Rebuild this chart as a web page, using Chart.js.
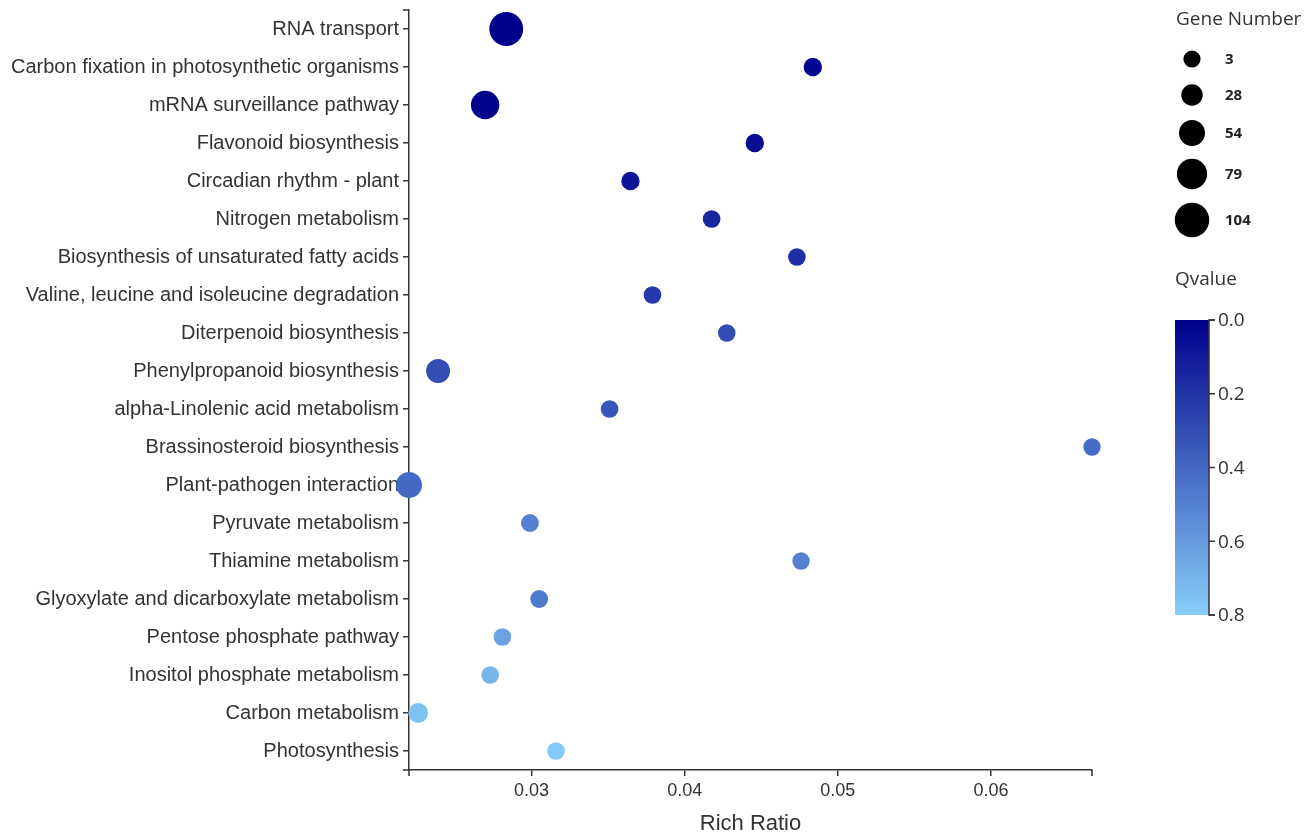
<!DOCTYPE html>
<html>
<head>
<meta charset="utf-8">
<script src="https://cdn.jsdelivr.net/npm/chart.js@4.4.0/dist/chart.umd.min.js"></script>
<style>
  html, body { margin: 0; padding: 0; background: #fff; }
</style>
</head>
<body>
<canvas id="chart" width="1311" height="837"></canvas>
<script>
// ---- data ----
const pathways = [
  "RNA transport",
  "Carbon fixation in photosynthetic organisms",
  "mRNA surveillance pathway",
  "Flavonoid biosynthesis",
  "Circadian rhythm - plant",
  "Nitrogen metabolism",
  "Biosynthesis of unsaturated fatty acids",
  "Valine, leucine and isoleucine degradation",
  "Diterpenoid biosynthesis",
  "Phenylpropanoid biosynthesis",
  "alpha-Linolenic acid metabolism",
  "Brassinosteroid biosynthesis",
  "Plant-pathogen interaction",
  "Pyruvate metabolism",
  "Thiamine metabolism",
  "Glyoxylate and dicarboxylate metabolism",
  "Pentose phosphate pathway",
  "Inositol phosphate metabolism",
  "Carbon metabolism",
  "Photosynthesis",
];
const richRatio = [0.02835, 0.04837, 0.02697, 0.04458, 0.03646, 0.04176, 0.04733, 0.0379, 0.04275, 0.0239,
  0.0351, 0.0666, 0.0220, 0.0299, 0.0476, 0.0305, 0.0281, 0.0273, 0.0226, 0.0316];
const geneNumber = [100, 10, 68, 10, 10, 6, 5, 6, 5, 42, 6, 4, 54, 7, 4, 7, 6, 6, 18, 5];
const qValue = [0.0, 0.02, 0.01, 0.05, 0.08, 0.15, 0.18, 0.22, 0.3, 0.3, 0.33, 0.42, 0.41, 0.5, 0.5, 0.47, 0.63, 0.7, 0.75, 0.78];

const xTicks = [0.03, 0.04, 0.05, 0.06];
const sizeLegend = [3, 28, 54, 79, 104];
const qTicks = [0.0, 0.2, 0.4, 0.6, 0.8];

const X_MIN = 0.022, X_MAX = 0.0666;
const Q_MAX = 0.8;

const AXIS = "#333";
const TEXT = "#333";

// gene number -> radius (px), linear like the size legend
const radius = (n) => 8.6 + (n - 3) * 0.086;

// qvalue -> colour, darkblue to lightskyblue
const dark = [0, 0, 139], light = [135, 206, 250];
const qColor = (q) => {
  const t = Math.max(0, Math.min(1, q / Q_MAX));
  const c = dark.map((d, i) => Math.round(d + (light[i] - d) * t));
  return `rgb(${c[0]},${c[1]},${c[2]})`;
};

// outer ticks of the axes + legends on the right
const extras = {
  id: "extras",
  afterDraw(chart) {
    const ctx = chart.ctx;
    const a = chart.chartArea;
    ctx.save();
    ctx.strokeStyle = AXIS;
    ctx.lineWidth = 1.5;
    ctx.beginPath();
    ctx.moveTo(a.left - 6, a.top); ctx.lineTo(a.left, a.top);
    ctx.moveTo(a.left - 6, a.bottom); ctx.lineTo(a.left, a.bottom);
    ctx.moveTo(a.left, a.bottom); ctx.lineTo(a.left, a.bottom + 6);
    ctx.moveTo(a.right, a.bottom); ctx.lineTo(a.right, a.bottom + 6);
    ctx.stroke();

    // Gene Number legend
    const lx = 1192;
    ctx.fillStyle = TEXT;
    ctx.font = "19px 'Open Sans'";
    ctx.textBaseline = "middle";
    ctx.textAlign = "left";
    ctx.fillText("Gene Number", 1176, 20);
    const rowsY = [59, 95, 133, 174, 220];
    ctx.font = "bold 15px 'Open Sans'";
    sizeLegend.forEach((n, i) => {
      ctx.fillStyle = "#000";
      ctx.beginPath();
      ctx.arc(lx, rowsY[i], radius(n), 0, Math.PI * 2);
      ctx.fill();
      ctx.fillStyle = "#222";
      ctx.fillText(String(n), 1225, rowsY[i] + 1);
    });

    // Qvalue colour bar
    ctx.fillStyle = TEXT;
    ctx.font = "19px 'Open Sans'";
    ctx.fillText("Qvalue", 1175, 280);
    const bx = 1175, bw = 34, top = 320, bottom = 615;
    const g = ctx.createLinearGradient(0, top, 0, bottom);
    g.addColorStop(0, qColor(0));
    g.addColorStop(1, qColor(Q_MAX));
    ctx.fillStyle = g;
    ctx.fillRect(bx, top, bw, bottom - top);
    const ax = bx + bw;
    ctx.strokeStyle = AXIS;
    ctx.lineWidth = 1.5;
    ctx.beginPath();
    ctx.moveTo(ax + 6, top); ctx.lineTo(ax, top); ctx.lineTo(ax, bottom); ctx.lineTo(ax + 6, bottom);
    ctx.stroke();
    ctx.font = "19px 'Open Sans'";
    ctx.fillStyle = TEXT;
    qTicks.forEach((q) => {
      const y = top + (bottom - top) * q / Q_MAX;
      ctx.beginPath();
      ctx.moveTo(ax, y); ctx.lineTo(ax + 6, y);
      ctx.stroke();
      ctx.fillText(q.toFixed(1), ax + 9, y + 1);
    });
    ctx.restore();
  },
};

new Chart(document.getElementById("chart"), {
  type: "scatter",
  data: {
    datasets: [{
      data: pathways.map((p, i) => ({ x: richRatio[i], y: p })),
      pointRadius: (c) => radius(geneNumber[c.dataIndex]),
      pointBackgroundColor: (c) => qColor(qValue[c.dataIndex]),
      pointBorderWidth: 0,
      clip: false,
    }],
  },
  options: {
    responsive: false,
    animation: false,
    devicePixelRatio: 1,
    events: [],
    layout: { autoPadding: false, padding: { top: 10, right: 219, left: 0, bottom: 0 } },
    plugins: { legend: { display: false }, tooltip: { enabled: false } },
    scales: {
      x: {
        type: "linear",
        min: X_MIN,
        max: X_MAX,
        z: 1,
        afterBuildTicks: (s) => { s.ticks = xTicks.map((v) => ({ value: v })); },
        afterFit: (s) => { s.height = 67; s.paddingLeft = 0; s.paddingRight = 0; },
        ticks: {
          callback: (v) => Number(v).toFixed(2),
          font: { family: "'Liberation Sans', Arial", size: 18 },
          color: TEXT,
          padding: 4,
        },
        grid: { drawOnChartArea: false, drawTicks: true, tickLength: 6, color: AXIS, lineWidth: 1.5 },
        border: { display: true, color: AXIS, width: 1.5 },
        title: {
          display: true,
          text: "Rich Ratio",
          font: { family: "'Liberation Sans', Arial", size: 22 },
          color: TEXT,
          padding: { top: 5, bottom: 0 },
        },
      },
      y: {
        type: "category",
        labels: pathways,
        offset: true,
        z: 1,
        afterFit: (s) => { s.width = 409; s.paddingTop = 0; s.paddingBottom = 0; },
        ticks: {
          font: { family: "'Liberation Sans', Arial", size: 20 },
          color: TEXT,
          padding: 4,
          autoSkip: false,
        },
        grid: { drawOnChartArea: false, drawTicks: true, tickLength: 6, color: AXIS, lineWidth: 1.5 },
        border: { display: true, color: AXIS, width: 1.5 },
      },
    },
  },
  plugins: [extras],
});
</script>
</body>
</html>
